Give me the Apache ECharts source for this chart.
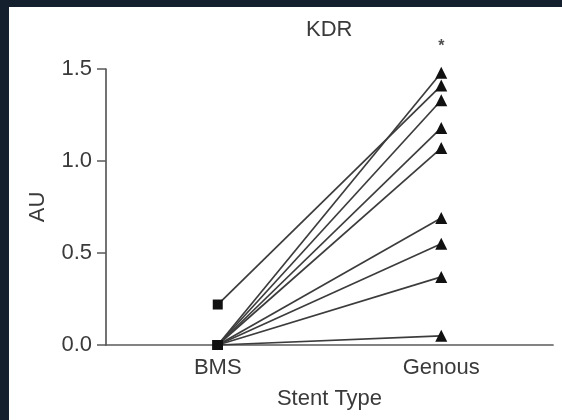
<!DOCTYPE html>
<html>
<head>
<meta charset="utf-8">
<script src="https://cdn.jsdelivr.net/npm/echarts@6/dist/echarts.min.js"></script>
<style>
  html, body { margin: 0; padding: 0; background: #15202e; width: 562px; height: 420px; overflow: hidden; }
  #chart { position: absolute; left: 9px; top: 7px; width: 553px; height: 413px; background: #ffffff; }
</style>
</head>
<body>
<div id="chart"></div>
<script>
// ---- data ----
var categories = ['BMS', 'Genous'];
var bmsValues = [0.00, 0.22, 0.00, 0.00, 0.00, 0.00, 0.00, 0.00, 0.00];
var genousValues = [1.48, 1.41, 1.33, 1.18, 1.07, 0.69, 0.55, 0.37, 0.05];
var yTicks = [0, 0.5, 1.0, 1.5];
var sigMarkValue = 1.62; // asterisk above Genous
var titleText = 'KDR';
var xName = 'Stent Type';
var yName = 'AU';

var chart = echarts.init(document.getElementById('chart'));
var fontFam = '"Liberation Sans", Arial, Helvetica, sans-serif';
var textColor = '#3a3a3a';
var fs = 22;

var series = [];
for (var i = 0; i < genousValues.length; i++) {
  series.push({
    type: 'line',
    data: [[categories[0], bmsValues[i]], [categories[1], genousValues[i]]],
    symbol: function (value, params) { return params.dataIndex === 0 ? 'rect' : 'triangle'; },
    symbolSize: function (value, params) { return params.dataIndex === 0 ? 10 : 12; },
    itemStyle: { color: '#111111' },
    lineStyle: { color: '#3c3c3c', width: 1.7 },
    showAllSymbol: true,
    animation: false,
    z: 3
  });
}
series.push({
  type: 'scatter',
  data: [[categories[1], sigMarkValue]],
  symbolSize: 0,
  clip: false,
  label: { show: true, formatter: '*', position: 'inside', color: '#222', fontSize: 16, fontWeight: 'bold', fontFamily: fontFam },
  animation: false
});

chart.setOption({
  backgroundColor: '#ffffff',
  title: {
    text: titleText,
    left: 292,
    top: 7,
    textStyle: { fontFamily: fontFam, fontSize: fs, fontWeight: 'normal', color: textColor }
  },
  grid: { left: 97, right: 9, top: 62, bottom: 75 },
  xAxis: {
    type: 'category',
    data: categories,
    boundaryGap: true,
    name: xName,
    nameLocation: 'middle',
    nameGap: 43,
    nameTextStyle: { fontFamily: fontFam, fontSize: fs, color: textColor },
    axisLine: { lineStyle: { color: '#5a5a5a', width: 1.7 } },
    axisTick: { alignWithLabel: true, length: 6, lineStyle: { color: '#5a5a5a', width: 1.5 } },
    axisLabel: { margin: 12, fontFamily: fontFam, fontSize: fs, color: textColor }
  },
  yAxis: {
    type: 'value',
    min: 0,
    max: 1.5,
    interval: 0.5,
    name: yName,
    nameLocation: 'middle',
    nameGap: 57,
    nameTextStyle: { fontFamily: fontFam, fontSize: fs, color: textColor },
    axisLine: { show: true, lineStyle: { color: '#5a5a5a', width: 1.7 } },
    axisTick: { show: true, length: 9, lineStyle: { color: '#5a5a5a', width: 1.5 } },
    splitLine: { show: false },
    axisLabel: {
      margin: 14, fontFamily: fontFam, fontSize: fs, color: textColor,
      formatter: function (v) { return v.toFixed(1); }
    }
  },
  series: series
});
</script>
</body>
</html>
